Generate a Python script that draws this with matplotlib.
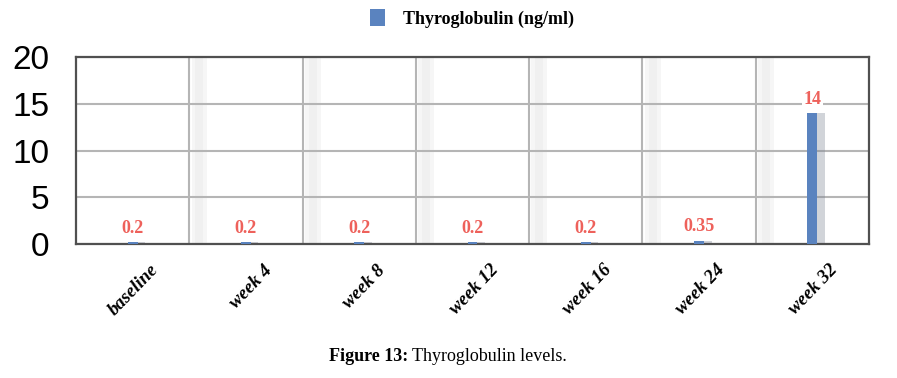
import matplotlib
matplotlib.use("Agg")
import matplotlib.pyplot as plt
import matplotlib.transforms as mtransforms
from matplotlib.patches import Patch

categories = ["baseline", "week 4", "week 8", "week 12", "week 16", "week 24", "week 32"]
values = [0.2, 0.2, 0.2, 0.2, 0.2, 0.35, 14]
series_name = "Thyroglobulin (ng/ml)"
yticks = [0, 5, 10, 15, 20]

bar_color = "#5a83bf"
label_color = "#ee615b"

fig = plt.figure(figsize=(8.97, 3.78), dpi=100)
ax = fig.add_axes([0.0847, 0.3545, 0.8841, 0.4945])

n = len(categories)
x = list(range(n))

# faint shadows beside vertical grid lines
for b in range(1, n):
    xb = b - 0.5
    for k, a in enumerate([0.25, 0.45, 0.45, 0.25]):
        ax.axvspan(xb + 0.02 + k * 0.035, xb + 0.055 + k * 0.035, color="#dedede",
                   alpha=a, lw=0, zorder=0)

# bar shadows
ax.bar([xi + 0.065 for xi in x], values, width=0.09, color="#7d8594", alpha=0.35,
       zorder=2, lw=0)
bars = ax.bar(x, values, width=0.088, color=bar_color, zorder=3, lw=0)

for xi, v in zip(x, values):
    ax.annotate("%g" % v, (xi, v), xytext=(0, 4), textcoords="offset points",
                ha="center", va="bottom", color=label_color, fontsize=13,
                fontweight="bold", family="Liberation Serif", zorder=5,
                bbox=dict(boxstyle="square,pad=0.1", fc="white", ec="none"))

ax.set_xlim(-0.5, n - 0.5)
ax.set_ylim(0, 20)
ax.set_yticks(yticks)
ax.set_yticklabels([str(t) for t in yticks], family="Liberation Sans", fontsize=24)
ax.tick_params(axis="y", length=0, pad=19)

# vertical grid at category boundaries
ax.set_xticks([b - 0.5 for b in range(1, n)], minor=True)
ax.grid(True, which="minor", axis="x", color="#b5b5b5", lw=1.5, zorder=1)
ax.grid(True, which="major", axis="y", color="#b5b5b5", lw=1.5, zorder=1)
ax.set_axisbelow(True)

ax.set_xticks(x)
ax.set_xticklabels(categories, rotation=46, ha="right", va="center",
                   rotation_mode="anchor", family="Liberation Serif",
                   fontsize=13.5, fontweight="bold", fontstyle="italic")
ax.tick_params(axis="x", which="both", length=0, pad=0)
offset = mtransforms.ScaledTranslation(0.23, -0.235, fig.dpi_scale_trans)
for lab in ax.get_xticklabels():
    lab.set_transform(lab.get_transform() + offset)

for s in ax.spines.values():
    s.set_color("#505050")
    s.set_linewidth(1.6)

handle = Patch(facecolor=bar_color, edgecolor="none")
fig.legend([handle], [series_name], loc="center", bbox_to_anchor=(0.526, 0.952),
           frameon=False, handlelength=0.85, handleheight=1.1, handletextpad=1.0,
           prop=dict(family="Liberation Serif", weight="bold", size=13))

cap_y = 0.056
t1 = fig.text(0.0, cap_y, "Figure 13:", ha="left", va="center",
              family="Liberation Serif", fontweight="bold", fontsize=13)
t2 = fig.text(0.0, cap_y, "Thyroglobulin levels.", ha="left", va="center",
              family="Liberation Serif", fontsize=13)
fig.canvas.draw()
w1 = t1.get_window_extent().width
w2 = t2.get_window_extent().width
gap = 4
total = w1 + gap + w2
x0 = 448 - total / 2
t1.set_x(x0 / fig.bbox.width)
t2.set_x((x0 + w1 + gap) / fig.bbox.width)

fig.savefig("out.png", dpi=100)
